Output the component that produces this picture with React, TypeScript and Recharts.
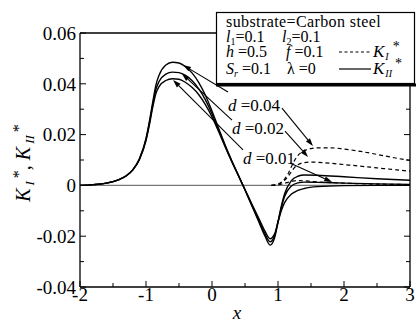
import React from 'react';
import { LineChart, Line, XAxis, YAxis, ReferenceLine } from 'recharts';

const FONT = '"Liberation Serif", "Times New Roman", serif';

// K_II* (solid lines), common x grid
const xII = [-2, -1.8, -1.6, -1.4, -1.3, -1.2, -1.1, -1.0, -0.95, -0.9, -0.85, -0.8, -0.7, -0.6, -0.5, -0.4, -0.3, -0.2, -0.1, 0,
  0.1, 0.2, 0.3, 0.4, 0.5, 0.6, 0.7, 0.8, 0.88, 0.95, 1.0, 1.05, 1.1, 1.2, 1.3, 1.4, 1.6, 2.0, 2.5, 3.0];
const kII_d004 = [0, 0.0003, 0.0009, 0.0024, 0.0038, 0.0062, 0.0105, 0.0185, 0.025, 0.0325, 0.0395, 0.0435, 0.0474, 0.0485, 0.0482, 0.0467, 0.0442, 0.0405, 0.0355, 0.0293,
  0.0225, 0.0158, 0.0097, 0.004, -0.0018, -0.0078, -0.0138, -0.0198, -0.0235, -0.0205, -0.0145, -0.0082, -0.0033, 0.0018, 0.0036, 0.0041, 0.004, 0.0034, 0.0026, 0.002];
const kII_d002 = [0, 0.0003, 0.0009, 0.0024, 0.0038, 0.0061, 0.0103, 0.018, 0.0243, 0.0315, 0.0378, 0.041, 0.0438, 0.0446, 0.0444, 0.0433, 0.0412, 0.038, 0.0337, 0.0282,
  0.0219, 0.0155, 0.0095, 0.0039, -0.0017, -0.0075, -0.0132, -0.0189, -0.0222, -0.0196, -0.0143, -0.0088, -0.0044, -0.0003, 0.001, 0.0013, 0.0012, 0.0009, 0.0006, 0.0004];
const kII_d001 = [0, 0.0003, 0.0009, 0.0024, 0.0037, 0.006, 0.0101, 0.0176, 0.0236, 0.0305, 0.0362, 0.039, 0.0413, 0.042, 0.0418, 0.0405, 0.0385, 0.0357, 0.0318, 0.027,
  0.0212, 0.0151, 0.0093, 0.0038, -0.0016, -0.0071, -0.0125, -0.0179, -0.021, -0.019, -0.0145, -0.01, -0.0068, -0.0035, -0.002, -0.0012, -0.0005, -0.0001, 0, 0];

// K_I* (dashed lines)
const xI = [0.9, 1.0, 1.1, 1.15, 1.2, 1.25, 1.3, 1.4, 1.5, 1.6, 1.8, 2.0, 2.2, 2.5, 2.8, 3.0];
const kI_d004 = [0, 0.0005, 0.0025, 0.0045, 0.0072, 0.0098, 0.0117, 0.0137, 0.0145, 0.0148, 0.0148, 0.0143, 0.0136, 0.0122, 0.0107, 0.0098];
const kI_d002 = [0, 0.0004, 0.002, 0.0035, 0.0053, 0.007, 0.0081, 0.009, 0.0092, 0.0091, 0.0087, 0.0082, 0.0077, 0.0069, 0.0061, 0.0056];
const kI_d001 = [0, 0.0002, 0.0008, 0.0012, 0.0016, 0.0018, 0.0019, 0.0018, 0.0016, 0.0014, 0.0011, 0.0009, 0.0007, 0.0005, 0.0004, 0.0003];

const xTicks = [-2, -1.5, -1, -0.5, 0, 0.5, 1, 1.5, 2, 2.5, 3];
const yTicks = [-0.04, -0.03, -0.02, -0.01, 0, 0.01, 0.02, 0.03, 0.04, 0.05, 0.06];

// d labels and their arrows (data coordinates)
const dLabels = [
  { text: '0.04', x: 0.242, y: 0.0317 },
  { text: '0.02', x: 0.303, y: 0.0226 },
  { text: '0.01', x: 0.47, y: 0.0108 },
];
const arrows = [
  { from: [0.242, 0.0368], to: [-0.44, 0.0474] },
  { from: [1.06, 0.0304], to: [1.53, 0.0155] },
  { from: [0.303, 0.0257], to: [-0.455, 0.044] },
  { from: [1.106, 0.0214], to: [1.455, 0.0112] },
  { from: [0.47, 0.014], to: [-0.59, 0.0415] },
  { from: [1.18, 0.0088], to: [1.82, 0.0013] },
];

const toSeries = (xs: number[], ys: number[]) => xs.map((x, i) => ({ x, y: ys[i] }));

const isMajorX = (v: number) => Number.isInteger(v);
const isMajorY = (v: number) => Math.abs(Math.round(v * 100)) % 2 === 0;
const fmtY = (v: number) => (Math.abs(v) < 1e-9 ? '0' : v.toFixed(2));

const LeftTick = ({ x, y, payload }: any) => {
  const major = isMajorY(payload.value);
  return (
    <g>
      <line x1={x} x2={x + (major ? 6 : 4)} y1={y} y2={y} stroke="#000" />
      {major && (
        <text x={x - 4} y={y} dy="0.36em" textAnchor="end" fontFamily={FONT} fontSize={19} fill="#000">
          {fmtY(payload.value)}
        </text>
      )}
    </g>
  );
};
const RightTick = ({ x, y, payload }: any) => {
  const major = isMajorY(payload.value);
  return <line x1={x} x2={x - (major ? 6 : 4)} y1={y} y2={y} stroke="#000" />;
};
const BottomTick = ({ x, y, payload }: any) => {
  const major = isMajorX(payload.value);
  return (
    <g>
      <line x1={x} x2={x} y1={y} y2={y - (major ? 6 : 4)} stroke="#000" />
      {major && (
        <text x={x} y={y + 14} textAnchor="middle" fontFamily={FONT} fontSize={19} fill="#000">
          {String(payload.value)}
        </text>
      )}
    </g>
  );
};
const TopTick = ({ x, y, payload }: any) => {
  const major = isMajorX(payload.value);
  return <line x1={x} x2={x} y1={y} y2={y + (major ? 6 : 4)} stroke="#000" />;
};

const Arrow = (props: any) => {
  const { x1, y1, x2, y2 } = props;
  const a = Math.atan2(y2 - y1, x2 - x1);
  const len = 8;
  const w = 2.6;
  const bx = x2 - len * Math.cos(a);
  const by = y2 - len * Math.sin(a);
  const px = -Math.sin(a) * w;
  const py = Math.cos(a) * w;
  return (
    <g>
      <line x1={x1} y1={y1} x2={bx} y2={by} stroke="#000" strokeWidth={1.1} />
      <polygon points={`${x2},${y2} ${bx + px},${by + py} ${bx - px},${by - py}`} fill="#000" />
    </g>
  );
};

const dLabelShape = (text: string) => (props: any) => (
  <text x={props.x1} y={props.y1} dy="0.35em" fontFamily={FONT} fontSize={17} fill="#000">
    <tspan fontStyle="italic">d</tspan>
    <tspan> =</tspan>
    <tspan>{text}</tspan>
  </text>
);

export default function App() {
  const lines = [
    { ys: kII_d004, xs: xII, dash: undefined },
    { ys: kII_d002, xs: xII, dash: undefined },
    { ys: kII_d001, xs: xII, dash: undefined },
    { ys: kI_d004, xs: xI, dash: '4 3' },
    { ys: kI_d002, xs: xI, dash: '4 3' },
    { ys: kI_d001, xs: xI, dash: '4 3' },
  ];
  return (
    <div style={{ position: 'absolute', left: 0, top: 0, width: 417, height: 322, background: '#fff' }}>
      <LineChart width={417} height={322} margin={{ top: 0, right: 0, bottom: 0, left: 0 }}>
        <XAxis
          dataKey="x" type="number" domain={[-2, 3]} ticks={xTicks} interval={0}
          height={35} tickSize={0} tickMargin={0} tickLine={false} tick={<BottomTick />}
          axisLine={{ stroke: '#000', strokeWidth: 1.3 }} allowDataOverflow
        />
        <XAxis
          xAxisId="top" orientation="top" type="number" domain={[-2, 3]} ticks={xTicks} interval={0}
          height={33} tickSize={0} tickMargin={0} tickLine={false} tick={<TopTick />}
          axisLine={{ stroke: '#000', strokeWidth: 1.3 }} allowDataOverflow
        />
        <YAxis
          type="number" domain={[-0.04, 0.06]} ticks={yTicks} interval={0}
          width={80} tickSize={0} tickMargin={0} tickLine={false} tick={<LeftTick />}
          axisLine={{ stroke: '#000', strokeWidth: 1.3 }} allowDataOverflow
        />
        <YAxis
          yAxisId="right" orientation="right" type="number" domain={[-0.04, 0.06]} ticks={yTicks} interval={0}
          width={7} tickSize={0} tickMargin={0} tickLine={false} tick={<RightTick />}
          axisLine={{ stroke: '#000', strokeWidth: 1.3 }} allowDataOverflow
        />
        <ReferenceLine y={0} stroke="#777" strokeWidth={1.3} />
        {lines.map((l, i) => (
          <Line
            key={i}
            data={toSeries(l.xs, l.ys)}
            dataKey="y"
            type="monotone"
            stroke="#000"
            strokeWidth={l.dash ? 1.2 : 1.4}
            strokeDasharray={l.dash}
            dot={false}
            activeDot={false}
            isAnimationActive={false}
          />
        ))}
        {arrows.map((a, i) => (
          <ReferenceLine
            key={`a${i}`}
            segment={[{ x: a.from[0], y: a.from[1] }, { x: a.to[0], y: a.to[1] }]}
            shape={Arrow}
            ifOverflow="visible"
          />
        ))}
        {dLabels.map((d, i) => (
          <ReferenceLine
            key={`l${i}`}
            segment={[{ x: d.x, y: d.y }, { x: d.x, y: d.y }]}
            shape={dLabelShape(d.text)}
            ifOverflow="visible"
          />
        ))}
      </LineChart>
      <svg width={417} height={322} style={{ position: 'absolute', left: 0, top: 0, pointerEvents: 'none' }}
        fontFamily={FONT} fill="#000">
        <rect x={216.5} y={12.5} width={198} height={71} fill="#fff" stroke="#000" strokeWidth={1.2} />
        <line x1={216} x2={416} y1={85} y2={85} stroke="#000" strokeWidth={3} />
        <text x={226} y={26.5} fontSize={16} letterSpacing={0.4}>substrate=Carbon steel</text>
        <text x={226} y={41.5} fontSize={16}>
          <tspan fontStyle="italic">l</tspan><tspan fontSize={10} dy={3}>1</tspan><tspan dy={-3}>=0.1</tspan>
        </text>
        <text x={282} y={41.5} fontSize={16}>
          <tspan fontStyle="italic">l</tspan><tspan fontSize={10} dy={3}>2</tspan><tspan dy={-3}>=0.1</tspan>
        </text>
        <text x={226} y={57} fontSize={16}><tspan fontStyle="italic">h</tspan> =0.5</text>
        <text x={286} y={57} fontSize={16}><tspan fontStyle="italic">f</tspan> =0.1</text>
        <line x1={339} x2={371} y1={52} y2={52} stroke="#000" strokeWidth={1.1} strokeDasharray="3 2.5" />
        <text x={373} y={57} fontSize={17}>
          <tspan fontStyle="italic">K</tspan>
          <tspan fontSize={10} fontStyle="italic" dx={1} dy={3}>I</tspan>
          <tspan fontSize={14} dx={4} dy={-9}>*</tspan>
        </text>
        <text x={226} y={73.5} fontSize={16}>
          <tspan fontStyle="italic">S</tspan><tspan fontSize={10} fontStyle="italic" dy={3}>r</tspan><tspan dy={-3}> =0.1</tspan>
        </text>
        <text x={287} y={73.5} fontSize={16}>λ =0</text>
        <line x1={339} x2={371} y1={69} y2={69} stroke="#000" strokeWidth={1.2} />
        <text x={373} y={73.5} fontSize={17}>
          <tspan fontStyle="italic">K</tspan>
          <tspan fontSize={10} fontStyle="italic" dx={1} dy={3}>II</tspan>
          <tspan fontSize={14} dx={3} dy={-9}>*</tspan>
        </text>
        <text transform="translate(30,163) rotate(-90)" textAnchor="middle" fontSize={20}>
          <tspan fontStyle="italic">K</tspan>
          <tspan fontSize={13} fontStyle="italic" dx={3} dy={4}>I</tspan>
          <tspan fontSize={16} dx={3} dy={-10}>*</tspan>
          <tspan dy={6}>, </tspan>
          <tspan fontStyle="italic">K</tspan>
          <tspan fontSize={13} fontStyle="italic" dx={3} dy={4}>II</tspan>
          <tspan fontSize={16} dx={3} dy={-10}>*</tspan>
        </text>
        <text x={237} y={319} textAnchor="middle" fontSize={19} fontStyle="italic">x</text>
      </svg>
    </div>
  );
}
